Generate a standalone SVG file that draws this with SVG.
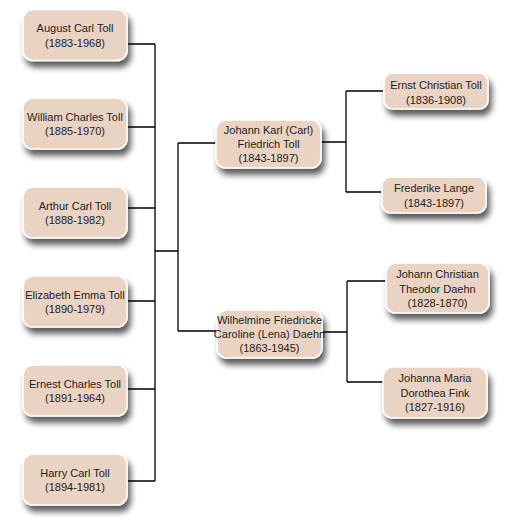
<svg xmlns="http://www.w3.org/2000/svg" width="524" height="527" viewBox="0 0 524 527">
<defs>
<filter id="sh" x="-20%" y="-30%" width="150%" height="180%">
<feGaussianBlur in="SourceAlpha" stdDeviation="3"/>
<feOffset dx="3" dy="6" result="b"/>
<feComponentTransfer><feFuncA type="linear" slope="0.65"/></feComponentTransfer>
<feMerge><feMergeNode/><feMergeNode in="SourceGraphic"/></feMerge>
</filter>
</defs>
<style>
.box{fill:#ebd3c4;stroke:#ffffff;stroke-width:1.6;filter:url(#sh)}
.t{font-family:"Liberation Sans",Arial,sans-serif;font-size:11px;fill:#222;text-anchor:middle}
.c{stroke:#000;stroke-width:1.3;fill:none}
</style>
<rect width="524" height="527" fill="#ffffff"/>
<g id="connectors">
<path class="c" d="M127 44H155M128 127H155M127 208H155M127 301H155M127 389H155M127 481H155M155 44V481M155 251H178M178 143V331M178 143H216M178 331H217"/>
<path class="c" d="M321 142H346M346 91V192M346 91H383M346 192H382"/>
<path class="c" d="M322 332H347M347 281V382M347 281H386M347 382H383"/>
</g>
<g id="n-august"><rect class="box" x="23" y="9.5" width="104" height="51" rx="10"/>
<text class="t" x="75" y="32">August Carl Toll</text><text class="t" x="75" y="46.5">(1883-1968)</text></g>
<g id="n-william"><rect class="box" x="23" y="98" width="104" height="51" rx="10"/>
<text class="t" x="75" y="120.5">William Charles Toll</text><text class="t" x="75" y="135">(1885-1970)</text></g>
<g id="n-arthur"><rect class="box" x="23" y="187" width="104" height="51" rx="10"/>
<text class="t" x="75" y="209.5">Arthur Carl Toll</text><text class="t" x="75" y="224">(1888-1982)</text></g>
<g id="n-elizabeth"><rect class="box" x="23" y="276" width="104" height="51" rx="10"/>
<text class="t" x="75" y="298.5">Elizabeth Emma Toll</text><text class="t" x="75" y="313">(1890-1979)</text></g>
<g id="n-ernest"><rect class="box" x="23" y="365" width="104" height="51" rx="10"/>
<text class="t" x="75" y="387.5">Ernest Charles Toll</text><text class="t" x="75" y="402">(1891-1964)</text></g>
<g id="n-harry"><rect class="box" x="23" y="454" width="104" height="51" rx="10"/>
<text class="t" x="75" y="476.5">Harry Carl Toll</text><text class="t" x="75" y="491">(1894-1981)</text></g>
<g id="n-johannkarl"><rect class="box" x="216" y="120" width="105" height="48" rx="10"/>
<text class="t" x="268.5" y="134">Johann Karl (Carl)</text><text class="t" x="268.5" y="148">Friedrich Toll</text><text class="t" x="268.5" y="162">(1843-1897)</text></g>
<g id="n-wilhelmine"><rect class="box" x="217" y="310" width="105" height="48" rx="10"/>
<text class="t" x="269.5" y="324">Wilhelmine Friedricke</text><text class="t" x="269.5" y="338">Caroline (Lena) Daehn</text><text class="t" x="269.5" y="352">(1863-1945)</text></g>
<g id="n-ernst"><rect class="box" x="384" y="73" width="104" height="36" rx="9"/>
<text class="t" x="436" y="89">Ernst Christian Toll</text><text class="t" x="436" y="104">(1836-1908)</text></g>
<g id="n-frederike"><rect class="box" x="382" y="177" width="104" height="36" rx="9"/>
<text class="t" x="434" y="192">Frederike Lange</text><text class="t" x="434" y="207">(1843-1897)</text></g>
<g id="n-johannchristian"><rect class="box" x="386" y="263" width="103" height="50" rx="10"/>
<text class="t" x="437.5" y="278">Johann Christian</text><text class="t" x="437.5" y="292.5">Theodor Daehn</text><text class="t" x="437.5" y="307">(1828-1870)</text></g>
<g id="n-johanna"><rect class="box" x="383" y="367" width="104" height="51" rx="10"/>
<text class="t" x="435" y="382">Johanna Maria</text><text class="t" x="435" y="396.5">Dorothea Fink</text><text class="t" x="435" y="411">(1827-1916)</text></g>
</svg>
